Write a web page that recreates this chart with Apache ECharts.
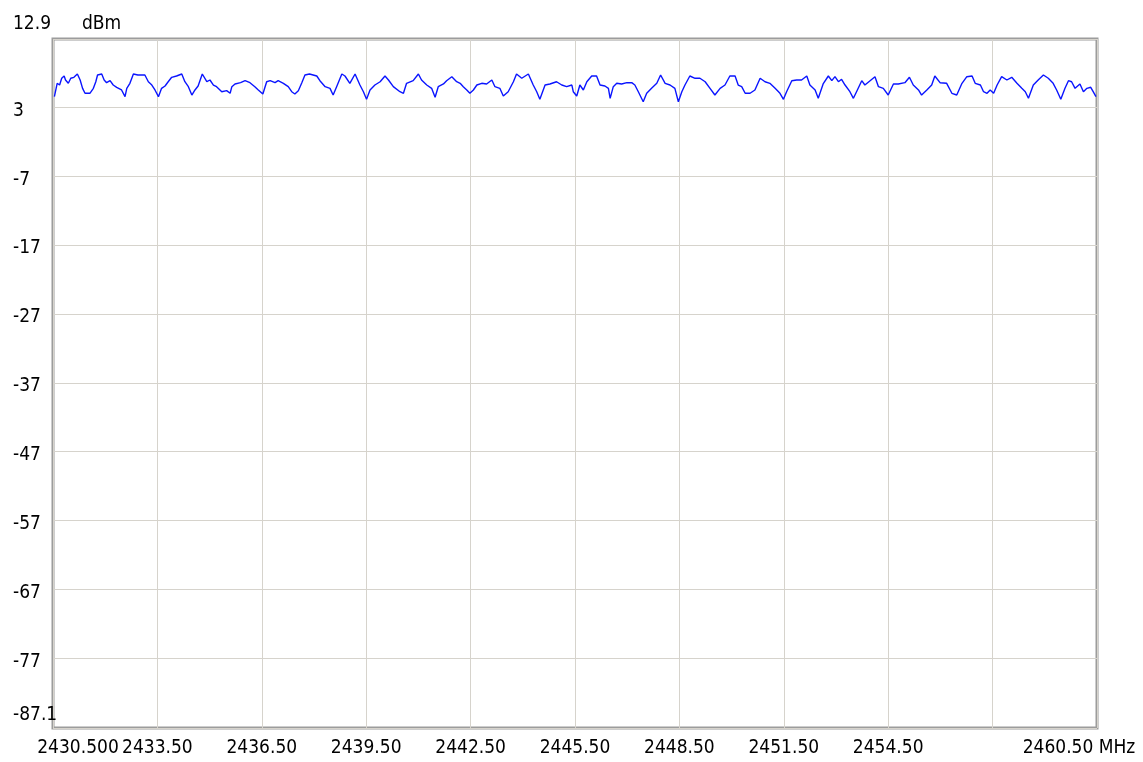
<!DOCTYPE html>
<html>
<head>
<meta charset="utf-8">
<title>Spectrum trace</title>
<script src="https://cdn.jsdelivr.net/npm/echarts@6/dist/echarts.min.js"></script>
<style>
  html, body { margin: 0; padding: 0; background: #ffffff; }
  #chart { width: 1143px; height: 762px; }
</style>
</head>
<body>
<div id="chart"></div>
<script>
// Frequency axis ticks (MHz) and their printed labels
const freqTicks = [2430.5, 2433.5, 2436.5, 2439.5, 2442.5, 2445.5, 2448.5, 2451.5, 2454.5, 2457.5, 2460.5];
const freqLabels = ['2430.500', '2433.50', '2436.50', '2439.50', '2442.50', '2445.50', '2448.50', '2451.50', '2454.50', '', '2460.50 MHz'];

// Level axis ticks (dBm) and their printed labels
const levelTicks = [12.9, 3, -7, -17, -27, -37, -47, -57, -67, -77, -87.1];
const levelLabels = ['12.9', '3', '-7', '-17', '-27', '-37', '-47', '-57', '-67', '-77', '-87.1'];
const levelUnit = 'dBm';

// Measured trace: frequency (MHz) and level (dBm)
const freqMHz = [
  2430.54, 2430.62, 2430.69, 2430.75, 2430.82, 2430.86, 2430.94, 2431.01, 2431.10, 2431.20,
  2431.28, 2431.35, 2431.42, 2431.56, 2431.66, 2431.73, 2431.78, 2431.90, 2431.97, 2432.04,
  2432.14, 2432.23, 2432.33, 2432.47, 2432.57, 2432.62, 2432.71, 2432.81, 2432.94, 2433.14,
  2433.24, 2433.34, 2433.43, 2433.53, 2433.62, 2433.72, 2433.81, 2433.91, 2434.05, 2434.20,
  2434.29, 2434.39, 2434.49, 2434.58, 2434.67, 2434.79, 2434.92, 2435.01, 2435.11, 2435.20,
  2435.35, 2435.49, 2435.59, 2435.64, 2435.73, 2435.89, 2436.02, 2436.16, 2436.30, 2436.40,
  2436.53, 2436.64, 2436.74, 2436.88, 2436.97, 2437.12, 2437.26, 2437.36, 2437.45, 2437.55,
  2437.65, 2437.74, 2437.87, 2438.08, 2438.17, 2438.32, 2438.46, 2438.55, 2438.65, 2438.80,
  2438.89, 2439.03, 2439.18, 2439.32, 2439.42, 2439.51, 2439.61, 2439.75, 2439.90, 2440.04,
  2440.14, 2440.28, 2440.47, 2440.57, 2440.66, 2440.85, 2441.00, 2441.09, 2441.24, 2441.38,
  2441.48, 2441.57, 2441.72, 2441.81, 2441.96, 2442.10, 2442.20, 2442.29, 2442.39, 2442.48,
  2442.58, 2442.68, 2442.82, 2442.96, 2443.11, 2443.20, 2443.34, 2443.44, 2443.58, 2443.73,
  2443.82, 2443.97, 2444.16, 2444.30, 2444.40, 2444.49, 2444.64, 2444.78, 2444.97, 2445.12,
  2445.26, 2445.41, 2445.45, 2445.55, 2445.64, 2445.74, 2445.84, 2445.98, 2446.12, 2446.22,
  2446.36, 2446.46, 2446.51, 2446.60, 2446.70, 2446.84, 2446.99, 2447.13, 2447.22, 2447.32,
  2447.46, 2447.56, 2447.70, 2447.85, 2447.96, 2448.09, 2448.23, 2448.37, 2448.47, 2448.57,
  2448.66, 2448.80, 2448.95, 2449.09, 2449.24, 2449.38, 2449.52, 2449.67, 2449.81, 2449.95,
  2450.10, 2450.19, 2450.29, 2450.39, 2450.53, 2450.67, 2450.82, 2450.96, 2451.10, 2451.25,
  2451.39, 2451.49, 2451.58, 2451.73, 2451.87, 2452.01, 2452.16, 2452.25, 2452.40, 2452.49,
  2452.63, 2452.78, 2452.88, 2452.97, 2453.07, 2453.16, 2453.26, 2453.40, 2453.50, 2453.59,
  2453.74, 2453.83, 2453.98, 2454.12, 2454.22, 2454.36, 2454.50, 2454.65, 2454.79, 2454.98,
  2455.11, 2455.22, 2455.37, 2455.46, 2455.61, 2455.75, 2455.84, 2455.99, 2456.18, 2456.33,
  2456.47, 2456.62, 2456.76, 2456.91, 2457.00, 2457.15, 2457.24, 2457.34, 2457.43, 2457.53,
  2457.63, 2457.76, 2457.91, 2458.05, 2458.20, 2458.34, 2458.44, 2458.53, 2458.67, 2458.81,
  2458.96, 2459.10, 2459.24, 2459.34, 2459.46, 2459.58, 2459.68, 2459.77, 2459.87, 2460.01,
  2460.11, 2460.21, 2460.32, 2460.39, 2460.47
];
const levelDbm = [
  4.53, 6.47, 6.22, 7.20, 7.53, 6.95, 6.47, 7.20, 7.34, 7.82,
  6.95, 5.74, 5.02, 5.02, 5.74, 6.70, 7.67, 7.82, 6.95, 6.56,
  6.85, 6.22, 5.89, 5.50, 4.53, 5.74, 6.47, 7.82, 7.67, 7.67,
  6.70, 6.22, 5.50, 4.53, 5.74, 6.08, 6.70, 7.34, 7.53, 7.82,
  6.70, 5.98, 4.77, 5.50, 6.08, 7.82, 6.70, 6.95, 6.22, 5.98,
  5.25, 5.40, 5.02, 5.98, 6.37, 6.56, 6.85, 6.56, 5.98, 5.50,
  4.92, 6.70, 6.85, 6.56, 6.85, 6.47, 5.98, 5.25, 4.92, 5.40,
  6.56, 7.67, 7.82, 7.53, 6.85, 5.98, 5.74, 4.77, 5.98, 7.82,
  7.53, 6.47, 7.82, 6.22, 5.25, 4.15, 5.50, 6.22, 6.70, 7.53,
  6.95, 5.98, 5.25, 5.02, 6.47, 6.85, 7.82, 6.95, 6.22, 5.74,
  4.44, 5.98, 6.37, 6.85, 7.43, 6.70, 6.47, 5.98, 5.50, 5.02,
  5.50, 6.22, 6.47, 6.37, 6.95, 5.98, 5.74, 4.63, 5.25, 6.70,
  7.82, 7.20, 7.82, 6.22, 5.25, 4.15, 6.22, 6.37, 6.70, 6.22,
  5.98, 6.22, 5.25, 4.63, 6.22, 5.50, 6.70, 7.53, 7.53, 6.22,
  6.08, 5.74, 4.29, 5.98, 6.47, 6.37, 6.56, 6.56, 6.22, 5.25,
  3.80, 5.02, 5.74, 6.47, 7.67, 6.47, 6.22, 5.74, 3.80, 5.25,
  6.22, 7.53, 7.20, 7.20, 6.70, 5.74, 4.77, 5.74, 6.22, 7.53,
  7.53, 6.22, 5.98, 5.02, 5.02, 5.50, 7.20, 6.70, 6.47, 5.74,
  5.02, 4.15, 5.25, 6.85, 6.95, 6.95, 7.53, 6.22, 5.50, 4.29,
  6.37, 7.53, 6.85, 7.43, 6.70, 7.05, 6.22, 5.25, 4.29, 5.25,
  6.85, 6.22, 6.85, 7.43, 5.98, 5.74, 4.77, 6.37, 6.37, 6.56,
  7.34, 6.22, 5.50, 4.77, 5.50, 6.22, 7.53, 6.56, 6.47, 5.02,
  4.77, 6.47, 7.43, 7.53, 6.47, 6.22, 5.25, 5.02, 5.50, 5.02,
  6.22, 7.43, 6.95, 7.34, 6.47, 5.74, 5.25, 4.29, 6.22, 6.95,
  7.67, 7.20, 6.47, 5.50, 4.15, 5.74, 6.85, 6.70, 5.74, 6.37,
  5.25, 5.74, 5.89, 5.25, 4.53
];

const FONT = '"DejaVu Sans Condensed", "Liberation Sans Narrow", sans-serif';
const FONT_SIZE = 19;

function labelFor(ticks, labels, v) {
  let idx = 0, best = Infinity;
  ticks.forEach((t, i) => { const d = Math.abs(t - v); if (d < best) { best = d; idx = i; } });
  return { idx, text: labels[idx] };
}

function textStyle(padding) {
  return { fontFamily: FONT, fontSize: FONT_SIZE, color: '#000000', padding: padding };
}

const chart = echarts.init(document.getElementById('chart'), null, { renderer: 'canvas' });

chart.setOption({
  animation: false,
  backgroundColor: '#ffffff',
  grid: {
    left: 53, right: 46, top: 39, bottom: 34,
    containLabel: false,
    outerBoundsMode: 'none',
    show: true,
    borderColor: '#9c9c9c',
    borderWidth: 3,
    backgroundColor: 'transparent'
  },
  xAxis: {
    type: 'value',
    min: freqTicks[0],
    max: freqTicks[freqTicks.length - 1],
    axisLine: { show: false },
    axisTick: { show: false, customValues: freqTicks },
    splitLine: { show: true, lineStyle: { color: '#d6d3cc', width: 1 } },
    axisLabel: {
      customValues: freqTicks,
      showMinLabel: true,
      showMaxLabel: true,
      hideOverlap: false,
      margin: 11,
      color: '#000000',
      fontFamily: FONT,
      fontSize: FONT_SIZE,
      formatter: function (v) {
        const r = labelFor(freqTicks, freqLabels, v);
        if (!r.text) return '';
        if (r.idx === 0) return '{first|' + r.text + '}';
        if (r.idx === freqTicks.length - 1) return '{last|' + r.text + '}';
        return r.text;
      },
      rich: {
        first: textStyle([0, 0, 0, 50]),
        last: textStyle([0, 36, 0, 0])
      }
    }
  },
  yAxis: {
    type: 'value',
    min: levelTicks[levelTicks.length - 1],
    max: levelTicks[0],
    name: levelUnit,
    nameLocation: 'end',
    nameGap: 15,
    nameTextStyle: {
      color: '#000000',
      fontFamily: FONT,
      fontSize: FONT_SIZE,
      align: 'left',
      verticalAlign: 'middle',
      padding: [0, 0, 0, 29]
    },
    axisLine: { show: false },
    axisTick: { show: false, customValues: levelTicks },
    splitLine: { show: true, lineStyle: { color: '#d6d3cc', width: 1 } },
    axisLabel: {
      customValues: levelTicks,
      showMinLabel: true,
      showMaxLabel: true,
      hideOverlap: false,
      align: 'left',
      margin: 40,
      color: '#000000',
      fontFamily: FONT,
      fontSize: FONT_SIZE,
      formatter: function (v) {
        const r = labelFor(levelTicks, levelLabels, v);
        if (r.idx === 0) return '{top|' + r.text + '}';
        if (r.idx === levelTicks.length - 1) return '{bottom|' + r.text + '}';
        return '{mid|' + r.text + '}';
      },
      rich: {
        top: textStyle([0, 0, 30, 0]),
        mid: textStyle([7, 0, 0, 0]),
        bottom: textStyle([0, 0, 26, 0])
      }
    }
  },
  series: [{
    type: 'line',
    data: freqMHz.map((f, i) => [f, levelDbm[i]]),
    showSymbol: false,
    symbol: 'none',
    clip: true,
    lineStyle: { color: '#0a14ff', width: 1.4 },
    emphasis: { disabled: true }
  }]
});
</script>
</body>
</html>
